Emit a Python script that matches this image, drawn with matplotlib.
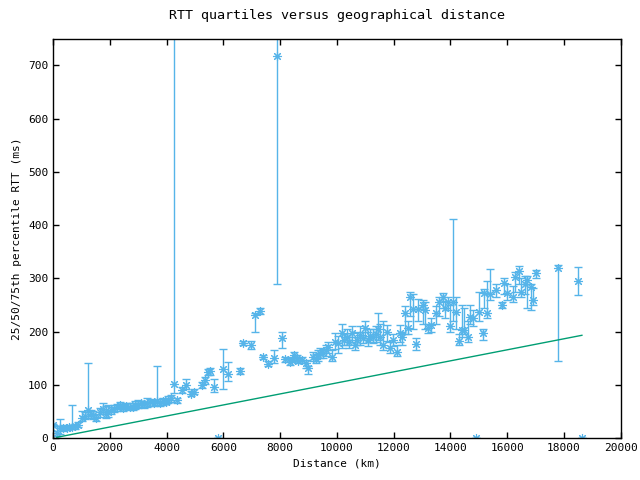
import matplotlib
matplotlib.use("Agg")
import matplotlib.pyplot as plt

# distance (km), median RTT, 25th and 75th percentile RTT (ms)
dist_km = [0, 130, 250, 360, 480, 560, 660, 775, 880, 1010, 1120, 1240, 1330, 1410,
           1520, 1650, 1760, 1850, 1940, 2050, 2150, 2250, 2350, 2460, 2580, 2700,
           2800, 2900, 3000, 3100, 3200, 3300, 3420, 3550, 3650, 3770, 3880, 3960,
           4060, 4160, 4260, 4350, 4530, 4690, 4850, 4960, 5230, 5350, 5460, 5540,
           5670, 5810, 5990, 6160, 6580, 6700, 6960, 7110, 7290, 7400, 7570, 7780,
           7890, 8060, 8170, 8340, 8400, 8490, 8580, 8630, 8760, 8900, 8980, 9150,
           9250, 9340, 9420, 9510, 9600, 9690, 9810, 9930, 10040, 10160, 10250,
           10340, 10430, 10520, 10630, 10720, 10810, 10900, 10990, 11090, 11180,
           11270, 11360, 11440, 11530, 11610, 11750, 11870, 11980, 12100, 12220,
           12280, 12390, 12500, 12570, 12680, 12780, 12860, 13020, 13100, 13200,
           13330, 13490, 13600, 13720, 13800, 13920, 13980, 14090, 14210, 14310,
           14390, 14480, 14600, 14700, 14790, 14890, 15000, 15130, 15180, 15280,
           15390, 15620, 15800, 15880, 16000, 16200, 16290, 16410, 16500, 16620,
           16690, 16820, 16900, 17010, 17780, 18490, 18630]
rtt_med = [24, 9, 18, 19, 18, 20, 20, 22, 25, 38, 42, 53, 46, 43,
           38, 49, 55, 45, 49, 52, 55, 59, 62, 56, 60, 59,
           58, 62, 62, 65, 63, 66, 68, 66, 70, 66, 70, 68,
           71, 75, 101, 71, 90, 100, 83, 87, 100, 109, 124, 125,
           96, 0, 129, 120, 126, 178, 175, 231, 239, 152, 139, 150,
           717, 188, 148, 143, 147, 156, 150, 145, 147, 140, 131, 152,
           148, 156, 160, 160, 165, 171, 152, 180, 178, 197, 185,
           190, 180, 197, 175, 185, 194, 188, 207, 184, 192,
           190, 195, 205, 190, 175, 199, 169, 184, 162, 197,
           190, 235, 206, 265, 242, 177, 242, 250, 240, 206,
           212, 234, 256, 265, 244, 256, 211, 256, 237, 183,
           203, 203, 190, 228, 225, 0, 237, 197, 272, 235,
           271, 278, 250, 291, 273, 265, 302, 314, 274, 289,
           297, 284, 259, 310, 319, 295, 0]
rtt_q1 = [14, 3, 8, 14, 15, 16, 16, 17, 20, 32, 35, 42, 38, 36,
          32, 40, 45, 38, 40, 45, 48, 50, 55, 50, 54, 52,
          52, 55, 56, 58, 57, 58, 60, 60, 62, 60, 62, 63,
          65, 68, 85, 66, 84, 92, 78, 82, 94, 102, 118, 118,
          87, 0, 92, 108, 120, 174, 168, 200, 233, 148, 135, 140,
          289, 170, 143, 138, 142, 150, 144, 140, 140, 132, 120, 145,
          140, 145, 150, 150, 155, 160, 145, 168, 160, 170, 175,
          175, 170, 180, 165, 175, 175, 178, 188, 172, 180,
          178, 180, 185, 175, 165, 182, 160, 172, 155, 180,
          175, 195, 195, 230, 205, 165, 220, 215, 205, 198,
          200, 215, 230, 245, 225, 240, 200, 220, 205, 175,
          190, 195, 180, 215, 210, 0, 220, 185, 245, 225,
          260, 265, 245, 270, 260, 255, 275, 290, 265, 270,
          245, 240, 250, 300, 145, 269, 0]
rtt_q3 = [26, 22, 35, 24, 22, 25, 62, 26, 30, 50, 48, 141, 52, 50,
          45, 56, 66, 60, 62, 58, 62, 64, 68, 63, 66, 66,
          65, 70, 72, 70, 68, 75, 74, 72, 135, 74, 76, 74,
          78, 80, 900, 76, 96, 110, 88, 92, 106, 114, 130, 132,
          110, 0, 167, 142, 132, 182, 182, 235, 244, 156, 144, 165,
          900, 200, 153, 150, 152, 162, 156, 150, 152, 146, 135, 162,
          158, 165, 170, 168, 175, 180, 165, 198, 192, 215, 195,
          205, 190, 210, 190, 200, 210, 200, 220, 200, 205,
          205, 210, 235, 215, 220, 212, 180, 196, 175, 212,
          200, 248, 220, 275, 270, 188, 262, 260, 255, 215,
          225, 248, 265, 272, 258, 265, 250, 412, 265, 195,
          250, 245, 220, 250, 240, 0, 275, 205, 280, 295,
          318, 290, 255, 300, 290, 285, 312, 323, 300, 305,
          305, 290, 282, 315, 325, 322, 0]

# propagation lower bound line
bound_km = [130, 18630]
bound_ms = [1.3, 193]


def plot_all():
    plt.rcParams['font.family'] = ['DejaVu Sans Mono']
    plt.rcParams['font.size'] = 8
    fig = plt.figure(figsize=(6.4, 4.8), dpi=100)
    ax = fig.add_axes([0.083, 0.0875, 0.887, 0.8315])

    yerr = [[m - lo for m, lo in zip(rtt_med, rtt_q1)],
            [hi - m for m, hi in zip(rtt_med, rtt_q3)]]
    ax.errorbar(dist_km, rtt_med, yerr=yerr, fmt='none', ecolor='#56b4e9',
                elinewidth=1, capsize=3, capthick=1)
    ax.plot(dist_km, rtt_med, linestyle='none', marker=(8, 2, 0),
            markersize=6.5, markeredgewidth=0.8, color='#56b4e9')
    ax.plot(bound_km, bound_ms, color='#009e73', linewidth=1)

    ax.set_xlim(0, 20000)
    ax.set_ylim(0, 750)
    ax.set_xticks(range(0, 20001, 2000))
    ax.set_yticks(range(0, 701, 100))
    ax.tick_params(direction='in', top=True, right=True, length=4, width=1)
    for s in ax.spines.values():
        s.set_linewidth(1)
    ax.set_title("RTT quartiles versus geographical distance", pad=14)
    ax.set_xlabel("Distance (km)")
    ax.set_ylabel("25/50/75th percentile RTT (ms)")
    fig.savefig('out.png', dpi=100)


def main():
    plot_all()


if __name__ == "__main__":
    main()
